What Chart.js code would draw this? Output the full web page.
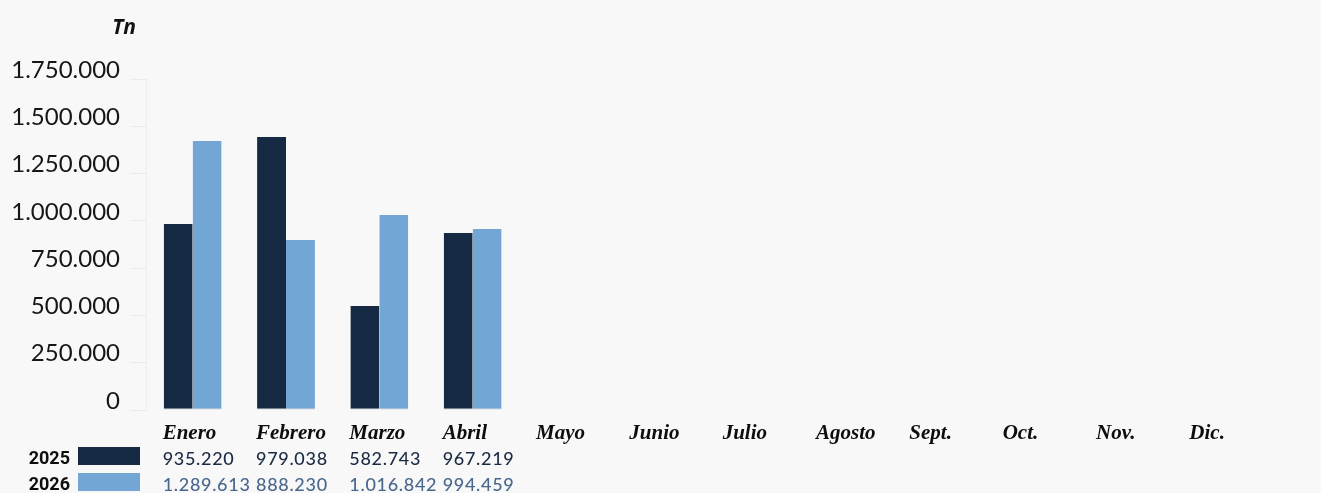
<!DOCTYPE html>
<html>
<head>
<meta charset="utf-8">
<script src="https://cdn.jsdelivr.net/npm/chart.js@4.4.1/dist/chart.umd.min.js"></script>
<style>
  html, body { margin: 0; padding: 0; background: #f8f8f8; overflow: hidden; }
  #wrap { width: 1321px; height: 493px; position: relative; }
</style>
</head>
<body>
<div id="wrap"><canvas id="toneladas"></canvas></div>
<script>
const meses = ['Enero', 'Febrero', 'Marzo', 'Abril', 'Mayo', 'Junio', 'Julio', 'Agosto', 'Sept.', 'Oct.', 'Nov.', 'Dic.'];
// alturas de las barras
const barras2025 = [983000, 1443000, 550000, 936000];
const barras2026 = [1422000, 899000, 1031000, 957000];
// cifras de la tabla inferior
const tabla2025 = [935220, 979038, 582743, 967219];
const tabla2026 = [1289613, 888230, 1016842, 994459];
const ticksY = [0, 250000, 500000, 750000, 1000000, 1250000, 1500000, 1750000];

const colorOscuro = '#152a42';
const colorClaro = '#72a6d5';

function puntos(n) {
    return String(n).replace(/\B(?=(\d{3})+(?!\d))/g, '.');
}

const tablaPlugin = {
    id: 'tabla',
    beforeDraw(chart) {
        const ctx = chart.ctx;
        ctx.save();
        ctx.fillStyle = '#f8f8f8';
        ctx.fillRect(0, 0, chart.width, chart.height);
        ctx.restore();
    },
    afterDraw(chart) {
        const ctx = chart.ctx;
        const x = chart.scales.x;
        const area = chart.chartArea;
        ctx.save();

        // unidad
        ctx.font = 'italic 700 21px "Open Sans"';
        ctx.fillStyle = '#111';
        ctx.textAlign = 'right';
        ctx.textBaseline = 'middle';
        ctx.fillText('Tn', 136, 28);

        // filas de la tabla
        const filas = [
            { anio: '2025', valores: tabla2025, color: colorOscuro, texto: '#1c2b44', y: 459 },
            { anio: '2026', valores: tabla2026, color: colorClaro, texto: '#4a678d', y: 485 }
        ];
        filas.forEach(f => {
            ctx.font = 'bold 18px "Liberation Sans Narrow", "Roboto"';
            ctx.fillStyle = '#0d0d0d';
            ctx.textAlign = 'right';
            ctx.fillText(f.anio, 70, f.y);
            ctx.fillStyle = f.color;
            ctx.fillRect(78, f.y - 12, 62, 18);

            ctx.font = '500 18px "Lato"';
            ctx.letterSpacing = '0.7px';
            ctx.fillStyle = f.texto;
            ctx.textAlign = 'left';
            f.valores.forEach((v, i) => {
                ctx.fillText(puntos(v), x.getPixelForTick(i) - 30, f.y);
            });
            ctx.letterSpacing = '0px';
        });
        ctx.restore();
    }
};

const ctx = document.getElementById('toneladas').getContext('2d');
const chart = new Chart(ctx, {
    type: 'bar',
    data: {
        labels: meses,
        datasets: [
            {
                label: '2025',
                data: barras2025,
                backgroundColor: colorOscuro,
                borderColor: 'rgba(140,150,165,0.6)',
                borderWidth: { top: 0, left: 0, right: 0, bottom: 1 },
                borderSkipped: false
            },
            {
                label: '2026',
                data: barras2026,
                backgroundColor: colorClaro,
                borderColor: 'rgba(140,150,165,0.6)',
                borderWidth: { top: 0, left: 0, right: 0, bottom: 1 },
                borderSkipped: false
            }
        ]
    },
    options: {
        responsive: true,
        maintainAspectRatio: false,
        animation: false,
        layout: { padding: { top: 79, right: 55, left: 0, bottom: 0 } },
        categoryPercentage: 0.62,
        barPercentage: 1.0,
        plugins: {
            legend: { display: false },
            tooltip: { enabled: false }
        },
        scales: {
            x: {
                grid: { display: false, drawTicks: false },
                border: { display: false },
                ticks: {
                    color: '#0d0d0d',
                    font: { family: '"Liberation Serif"', size: 21, weight: 'bold', style: 'italic' },
                    align: 'start',
                    labelOffset: -30,
                    padding: 11,
                    maxRotation: 0,
                    autoSkip: false
                },
                afterFit(scale) { scale.height = 83; }
            },
            y: {
                min: 0,
                max: 1750000,
                afterBuildTicks(scale) {
                    scale.ticks = ticksY.map(v => ({ value: v }));
                },
                grid: {
                    drawOnChartArea: false,
                    drawTicks: true,
                    tickLength: 16,
                    color: '#ebebeb'
                },
                border: { display: true, color: '#efefef' },
                ticks: {
                    color: '#161616',
                    font: { family: 'Lato', size: 24 },
                    padding: 10,
                    labelOffset: -9,
                    callback: v => puntos(v)
                },
                afterFit(scale) { scale.width = 146; }
            }
        }
    },
    plugins: [tablaPlugin]
});
</script>
</body>
</html>
